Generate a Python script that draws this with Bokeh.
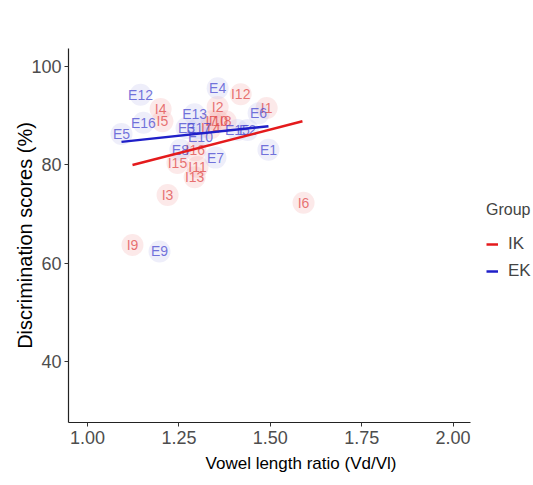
from bokeh.plotting import figure
from bokeh.models import ColumnDataSource, Legend, LegendItem, FixedTicker, NumeralTickFormatter, Range1d
from bokeh.core.properties import value
from bokeh.embed import file_html
from bokeh.resources import INLINE

# IK group
ik_labels = ["I1", "I2", "I3", "I4", "I5", "I6", "I7", "I8", "I9", "I10",
             "I11", "I12", "I13", "I14", "I15", "I16"]
ik_ratio = [1.490, 1.356, 1.219, 1.200, 1.205, 1.591, 1.339, 1.378, 1.123, 1.358,
            1.301, 1.419, 1.293, 1.337, 1.246, 1.295]
ik_score = [91.6, 91.8, 73.9, 91.4, 88.9, 72.3, 88.9, 88.9, 63.7, 88.9,
            79.6, 94.4, 77.5, 87.5, 80.4, 83.0]

# EK group
ek_labels = ["E1", "E2", "E3", "E4", "E5", "E6", "E7", "E8", "E9", "E10",
             "E12", "E13", "E15", "E16", "E17"]
ek_ratio = [1.495, 1.438, 1.271, 1.356, 1.093, 1.468, 1.350, 1.254, 1.197, 1.309,
            1.145, 1.293, 1.410, 1.153, 1.304]
ek_score = [83.1, 87.1, 87.5, 95.6, 86.3, 90.5, 81.5, 83.1, 62.4, 85.7,
            94.3, 90.3, 87.1, 88.6, 87.5]

# fitted lines
ik_fit_x = [1.123, 1.588]
ik_fit_y = [80.0, 88.9]
ek_fit_x = [1.093, 1.495]
ek_fit_y = [84.7, 87.9]

x_ticks = [1.00, 1.25, 1.50, 1.75, 2.00]
y_ticks = [40, 60, 80, 100]

FONT = "Liberation Sans"

RED = "#e41a1c"
BLUE = "#1f1fc8"

p = figure(width=533, height=485, output_backend="svg", toolbar_location=None,
           x_range=Range1d(0.948, 2.220), y_range=Range1d(27.6, 103.7),
           min_border_left=68, min_border_right=0, min_border_top=48, min_border_bottom=63)

p.background_fill_color = "white"
p.border_fill_color = "white"
p.outline_line_color = None
p.xgrid.visible = False
p.ygrid.visible = False

ik_src = ColumnDataSource(dict(x=ik_ratio, y=ik_score, t=ik_labels))
ek_src = ColumnDataSource(dict(x=ek_ratio, y=ek_score, t=ek_labels))

styles = [(ik_src, "#f4b6b6", "#e04848"), (ek_src, "#c6c8f0", "#4848d0")]
for src, fill, txt in styles:
    p.scatter("x", "y", source=src, size=22, fill_color=fill, fill_alpha=0.3, line_color=None)
for src, fill, txt in styles:
    p.text("x", "y", text="t", source=src, text_color=txt, text_alpha=0.75,
           text_font=value(FONT), text_font_size="14px",
           text_align="center", text_baseline="middle")

r_ik = p.line(ik_fit_x, ik_fit_y, line_color=RED, line_width=2.5)
r_ek = p.line(ek_fit_x, ek_fit_y, line_color=BLUE, line_width=2.5)

for ax in (p.xaxis[0], p.yaxis[0]):
    ax.axis_line_color = "#222222"
    ax.axis_line_width = 1.2
    ax.major_tick_line_color = "#333333"
    ax.major_tick_in = 0
    ax.major_tick_out = 4
    ax.minor_tick_line_color = None
    ax.major_label_text_color = "#4d4d4d"
    ax.major_label_text_font = FONT
    ax.major_label_text_font_size = "18px"
    ax.axis_label_text_font = FONT
    ax.axis_label_text_font_style = "normal"
    ax.axis_label_text_color = "#000000"

p.xaxis.axis_label_text_font_size = "17px"
p.yaxis.axis_label_text_font_size = "20px"
p.xaxis.bounds = (0.948, 2.049)
p.xaxis.ticker = FixedTicker(ticks=x_ticks)
p.xaxis.formatter = NumeralTickFormatter(format="0.00")
p.yaxis.ticker = FixedTicker(ticks=y_ticks)
p.xaxis.axis_label = "Vowel length ratio (Vd/Vl)"
p.yaxis.axis_label = "Discrimination scores (%)"
p.xaxis.major_label_standoff = 4
p.yaxis.major_label_standoff = 3
p.xaxis.axis_label_standoff = 7
p.yaxis.axis_label_standoff = -8

legend = Legend(items=[LegendItem(label="IK", renderers=[r_ik]),
                       LegendItem(label="EK", renderers=[r_ek])],
                title="Group", location=(418, 141))
legend.title_text_font = FONT
legend.title_text_font_size = "16px"
legend.title_text_font_style = "normal"
legend.title_standoff = 15
legend.label_text_font = FONT
legend.label_text_font_size = "17px"
legend.glyph_width = 12
legend.glyph_height = 20
legend.label_standoff = 10
legend.spacing = 7
legend.padding = 0
legend.margin = 0
legend.border_line_color = None
legend.background_fill_alpha = 0
p.add_layout(legend)

open("out.html", "w").write(file_html(p, INLINE))
